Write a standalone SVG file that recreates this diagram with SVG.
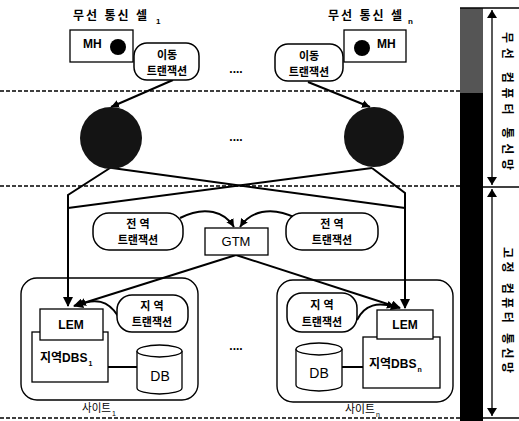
<svg xmlns="http://www.w3.org/2000/svg" width="519" height="421" viewBox="0 0 519 421">
<defs>
<marker id="ah" markerWidth="10" markerHeight="10" refX="9" refY="5" orient="auto" markerUnits="userSpaceOnUse">
<path d="M0,0 L10,5 L0,10 z" fill="#000"/>
</marker>
<marker id="ahs" markerWidth="8" markerHeight="10" refX="8" refY="5" orient="auto" markerUnits="userSpaceOnUse">
<path d="M0,1 L8,5 L0,9 z" fill="#000"/>
</marker>
<marker id="ahStart" markerWidth="8" markerHeight="12" refX="0" refY="6" orient="auto" markerUnits="userSpaceOnUse">
<path d="M8,1 L0,6 L8,11 z" fill="#000"/>
</marker>
<marker id="ahEnd" markerWidth="8" markerHeight="12" refX="8" refY="6" orient="auto" markerUnits="userSpaceOnUse">
<path d="M0,1 L8,6 L0,11 z" fill="#000"/>
</marker>
</defs>
<style>
text{font-family:"Liberation Sans","Noto Sans CJK KR",sans-serif;fill:#000}
.b{font-weight:bold}
.k{font-size:11px;font-weight:bold;text-anchor:middle}
.box{fill:#fff;stroke:#000;stroke-width:1.3}
.bub{fill:#fff;stroke:#000;stroke-width:1.5}
.dash{stroke:#000;stroke-width:1.6;stroke-dasharray:4 2;fill:none}
.c{stroke:#000;stroke-width:2;fill:none}
.dots{font-size:12px;font-weight:bold;text-anchor:middle}
.sub{font-size:8px}
</style>
<rect width="519" height="421" fill="#fff"/>

<!-- layer lines -->
<g id="layers">
<line class="dash" x1="0" y1="91" x2="460" y2="91"/>
<line class="dash" x1="0" y1="186" x2="460" y2="186"/>
<line class="dash" x1="0" y1="418" x2="460" y2="418"/>
<rect x="460" y="8" width="23" height="413" fill="#000"/>
<rect x="460" y="8" width="23" height="85" fill="#555"/>
<line x1="460" y1="8" x2="519" y2="8" stroke="#000" stroke-width="1.5"/>
<line x1="483" y1="187" x2="519" y2="187" stroke="#000" stroke-width="1.5"/>
<line x1="483" y1="418" x2="519" y2="418" stroke="#000" stroke-width="1.5"/>
<line x1="492" y1="10" x2="492" y2="185" stroke="#000" stroke-width="1.3" marker-start="url(#ahStart)" marker-end="url(#ahEnd)"/>
<line x1="492" y1="189" x2="492" y2="416" stroke="#000" stroke-width="1.3" marker-start="url(#ahStart)" marker-end="url(#ahEnd)"/>
<text class="b" font-size="12" text-anchor="middle" dominant-baseline="central" textLength="138" lengthAdjust="spacing" transform="translate(507,101) rotate(90)">무선 컴퓨터 통신망</text>
<text class="b" font-size="12" text-anchor="middle" dominant-baseline="central" textLength="126" lengthAdjust="spacing" transform="translate(507,310) rotate(90)">고정 컴퓨터 통신망</text>
</g>

<!-- connectors -->
<g id="connectors">
<line class="c" x1="173" y1="80" x2="111" y2="107" stroke-width="1.6" marker-end="url(#ahs)"/>
<line class="c" x1="308" y1="82" x2="370" y2="107" stroke-width="1.6" marker-end="url(#ahs)"/>
<polyline class="c" points="110,168 68,195 68,306" marker-end="url(#ah)"/>
<line class="c" x1="372" y1="168" x2="68" y2="208"/>
<line class="c" x1="112" y1="168" x2="405" y2="208"/>
<polyline class="c" points="372,168 405,193 405,308" marker-end="url(#ah)"/>
<path class="c" d="M180,218 C205,205 225,212 234,227" marker-end="url(#ahs)"/>
<path class="c" d="M296,218 C270,205 250,212 240,227" marker-end="url(#ahs)"/>
<line class="c" x1="236" y1="255" x2="74" y2="306" marker-end="url(#ah)"/>
<line class="c" x1="236" y1="255" x2="400" y2="308" marker-end="url(#ah)"/>
<path class="c" d="M118,316 C108,300 95,298 78,305" marker-end="url(#ahs)"/>
<path class="c" d="M357,320 C365,304 378,302 395,307" marker-end="url(#ahs)"/>
<line class="c" x1="108" y1="367" x2="137" y2="367" stroke-width="1.5"/>
<line class="c" x1="342" y1="367" x2="363" y2="367" stroke-width="1.5"/>
</g>

<!-- cell 1 -->
<g id="cell1">
<text class="b" font-size="12" x="73" y="20"><tspan textLength="74" lengthAdjust="spacing">무선 통신 셀</tspan><tspan class="sub" dx="7" dy="4">1</tspan></text>
</g>
<g id="mh1">
<rect class="box" x="70" y="30" width="63" height="32"/>
<text class="b" font-size="12" x="83" y="48">MH</text>
<circle cx="118" cy="47" r="8" fill="#000"/>
</g>
<g id="mobile-tx1">
<rect class="bub" x="134" y="43" width="65" height="37" rx="13"/>
<text class="k" x="167" y="59">이동</text>
<text class="k" x="167" y="75">트랜잭션</text>
</g>
<text class="dots" x="236" y="73">....</text>

<!-- cell n -->
<g id="celln">
<text class="b" font-size="12" x="328" y="20"><tspan textLength="74" lengthAdjust="spacing">무선 통신 셀</tspan><tspan class="sub" dx="4" dy="4">n</tspan></text>
</g>
<g id="mhn">
<rect class="box" x="344" y="30" width="62" height="32"/>
<circle cx="362" cy="48" r="8" fill="#000"/>
<text class="b" font-size="12" x="377" y="48">MH</text>
</g>
<g id="mobile-txn">
<rect class="bub" x="275" y="44" width="68" height="37" rx="13"/>
<text class="k" x="309" y="60">이동</text>
<text class="k" x="309" y="76">트랜잭션</text>
</g>

<!-- support stations -->
<g id="station1"><circle cx="111" cy="138" r="31" fill="#141414"/></g>
<text class="dots" x="236" y="141">....</text>
<g id="stationn"><circle cx="374" cy="137" r="30" fill="#141414"/></g>

<!-- global -->
<g id="global-tx1">
<rect class="bub" x="93" y="213" width="90" height="37" rx="16"/>
<text class="k" x="138" y="228">전 역</text>
<text class="k" x="138" y="244">트랜잭션</text>
</g>
<g id="gtm">
<rect class="box" x="205" y="228" width="63" height="27"/>
<text font-size="13" text-anchor="middle" x="236" y="246">GTM</text>
</g>
<g id="global-tx2">
<rect class="bub" x="286" y="213" width="92" height="37" rx="16"/>
<text class="k" x="332" y="228">전 역</text>
<text class="k" x="332" y="244">트랜잭션</text>
</g>

<!-- site 1 -->
<g id="site1">
<rect x="21" y="278" width="177" height="122" rx="16" fill="none" stroke="#000" stroke-width="1.4"/>
<text font-size="11" x="82" y="412"><tspan textLength="29" lengthAdjust="spacingAndGlyphs">사이트</tspan><tspan font-size="7" dx="1" dy="4">1</tspan></text>
</g>
<g id="local-tx1">
<rect class="bub" x="117" y="295" width="71" height="37" rx="15"/>
<text class="k" x="152" y="310">지 역</text>
<text class="k" x="152" y="326">트랜잭션</text>
</g>
<g id="dbs1">
<rect class="box" x="32" y="332" width="76" height="50"/>
<text class="b" font-size="12" x="40" y="362">지역DBS<tspan font-size="7" dx="1" dy="4">1</tspan></text>
</g>
<g id="lem1">
<rect class="box" x="40" y="309" width="63" height="31"/>
<text class="b" font-size="12" text-anchor="middle" x="71" y="329">LEM</text>
</g>
<g id="db1">
<path d="M137,351 L137,388 A22.5,6 0 0 0 182,388 L182,351" fill="#fff" stroke="#000" stroke-width="1.3"/>
<ellipse cx="159.5" cy="351" rx="22.5" ry="6" fill="#fff" stroke="#000" stroke-width="1.3"/>
<text font-size="14" text-anchor="middle" x="160" y="381">DB</text>
</g>
<text class="dots" x="236" y="350">....</text>

<!-- site n -->
<g id="siten">
<rect x="277" y="280" width="176" height="122" rx="16" fill="none" stroke="#000" stroke-width="1.4"/>
<text font-size="11" x="345" y="413"><tspan textLength="30" lengthAdjust="spacingAndGlyphs">사이트</tspan><tspan font-size="7" dx="1" dy="4">n</tspan></text>
</g>
<g id="local-txn">
<rect class="bub" x="287" y="293" width="70" height="39" rx="15"/>
<text class="k" x="322" y="309">지 역</text>
<text class="k" x="322" y="326">트랜잭션</text>
</g>
<g id="dbsn">
<rect class="box" x="363" y="337" width="77" height="51"/>
<text class="b" font-size="12" x="369" y="368">지역DBS<tspan font-size="7" dx="1" dy="4">n</tspan></text>
</g>
<g id="lemn">
<rect class="box" x="377" y="310" width="56" height="29"/>
<text class="b" font-size="12" text-anchor="middle" x="405" y="329">LEM</text>
</g>
<g id="dbn">
<path d="M296,349 L296,385 A23,6 0 0 0 342,385 L342,349" fill="#fff" stroke="#000" stroke-width="1.3"/>
<ellipse cx="319" cy="349" rx="23" ry="6" fill="#fff" stroke="#000" stroke-width="1.3"/>
<text font-size="14" text-anchor="middle" x="319" y="378">DB</text>
</g>
</svg>
